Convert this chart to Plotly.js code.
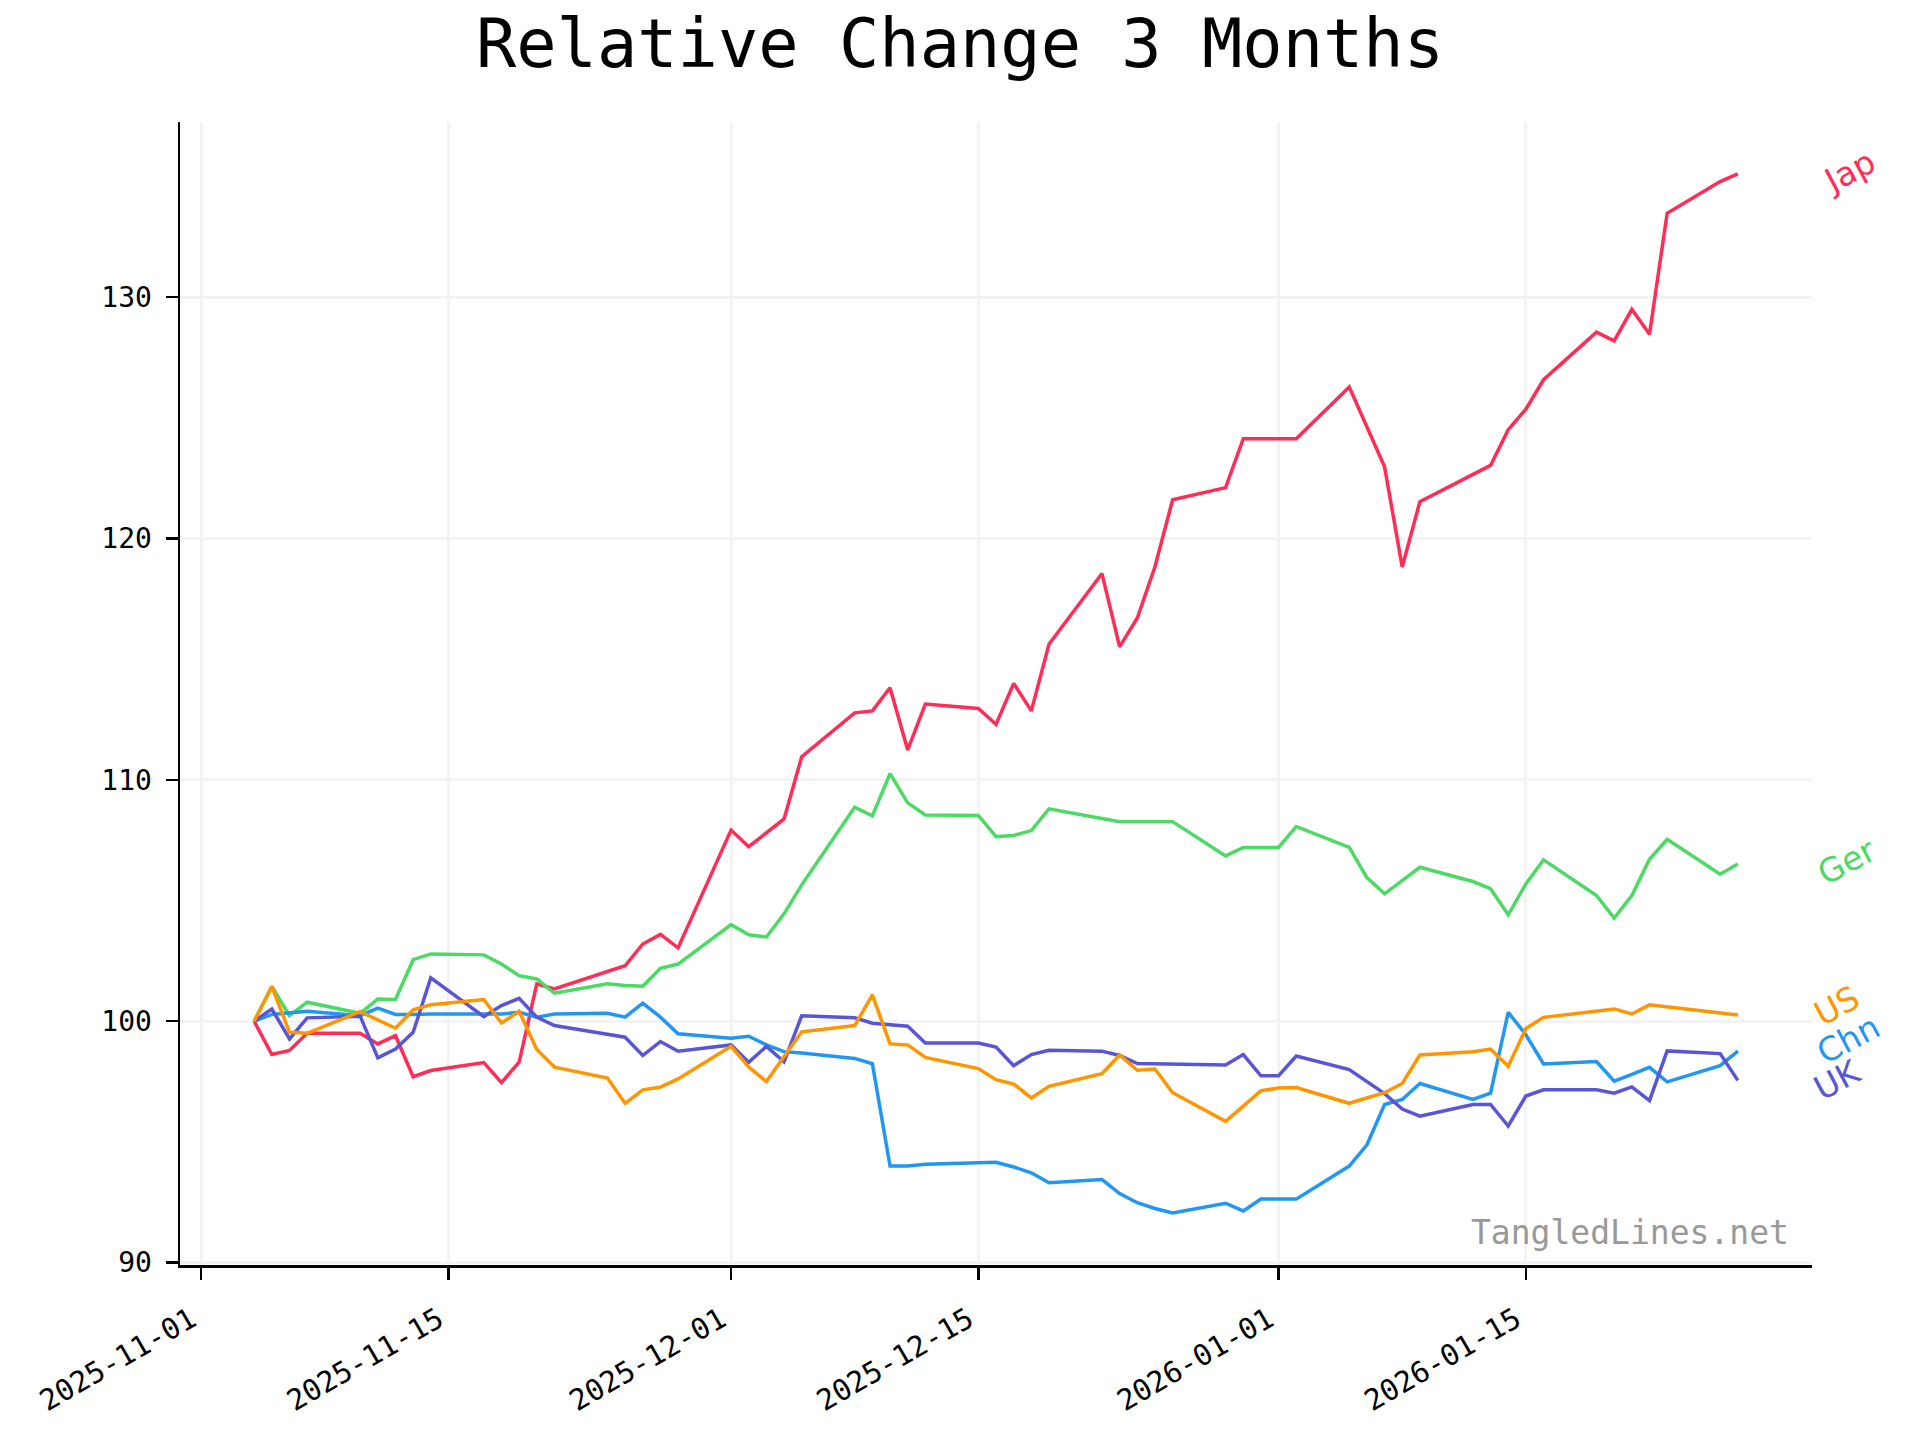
<!DOCTYPE html>
<html>
<head>
<meta charset="utf-8">
<script src="https://cdn.plot.ly/plotly-3.0.1.min.js"></script>
<style>
  html, body { margin: 0; padding: 0; background: #ffffff; }
  #chart { width: 1920px; height: 1440px; }
</style>
</head>
<body>
<div id="chart"></div>
<script>
// ---- Data ----
const dates = [
  "2025-11-04","2025-11-05","2025-11-06","2025-11-07",
  "2025-11-10","2025-11-11","2025-11-12","2025-11-13","2025-11-14",
  "2025-11-17","2025-11-18","2025-11-19","2025-11-20","2025-11-21",
  "2025-11-24","2025-11-25","2025-11-26","2025-11-27","2025-11-28",
  "2025-12-01","2025-12-02","2025-12-03","2025-12-04","2025-12-05",
  "2025-12-08","2025-12-09","2025-12-10","2025-12-11","2025-12-12",
  "2025-12-15","2025-12-16","2025-12-17","2025-12-18","2025-12-19",
  "2025-12-22","2025-12-23","2025-12-24","2025-12-25","2025-12-26",
  "2025-12-29","2025-12-30","2025-12-31","2026-01-01","2026-01-02",
  "2026-01-05","2026-01-06","2026-01-07","2026-01-08","2026-01-09",
  "2026-01-12","2026-01-13","2026-01-14","2026-01-15","2026-01-16",
  "2026-01-19","2026-01-20","2026-01-21","2026-01-22","2026-01-23",
  "2026-01-26","2026-01-27"
];

const jap = [
  100, 98.62, 98.79, 99.5,
  99.5, 99.06, 99.4, 97.7, 97.96,
  98.29, 97.46, 98.3, 101.55, 101.34,
  null, 102.3, 103.2, 103.6, 103.04,
  107.92, 107.23, null, 108.38, 110.96,
  112.78, 112.86, 113.82, 111.24, 113.14,
  112.96, 112.3, 114.0, 112.86, 115.62,
  118.55, 115.51, 116.71, 118.83, 121.61,
  122.11, 124.14, null, null, 124.14,
  126.28, 124.62, 122.97, 118.82, 121.53,
  null, 123.03, 124.51, 125.36, 126.58,
  128.55, 128.19, 129.5, 128.47, 133.48,
  134.79, 135.11
];

const ger = [
  100, 101.44, 100.23, 100.79,
  100.33, 100.92, 100.9, 102.55, 102.79,
  102.75, 102.37, 101.89, 101.75, 101.16,
  101.55, 101.48, 101.45, 102.19, 102.37,
  104.0, 103.58, 103.49, 104.45, 105.65,
  108.87, 108.51, 110.26, 109.05, 108.55,
  108.53, 107.65, 107.7, 107.9, 108.8,
  108.4, 108.27, null, null, 108.27,
  106.85, 107.2, 107.2, 107.2, 108.07,
  107.2, 105.95, 105.28, null, 106.38,
  105.79, 105.49, 104.41, 105.69, 106.69,
  105.21, 104.27, 105.21, 106.71, 107.54,
  106.09, 106.52
];

const us = [
  100, 101.44, 99.54, 99.5,
  100.4, null, 99.71, 100.47, 100.68,
  100.9, 99.93, 100.41, 98.83, 98.1,
  97.65, 96.6, 97.16, 97.27, 97.61,
  98.96, 98.1, 97.5, 98.5, 99.56,
  99.82, 101.09, 99.06, 99.02, 98.5,
  98.04, 97.58, 97.4, 96.82, 97.3,
  97.83, 98.6, 97.97, 98.02, 97.04,
  95.85, 96.48, 97.12, 97.23, 97.25,
  96.6, 96.82, 97.04, 97.42, 98.6,
  98.74, 98.85, 98.13, 99.7, 100.16,
  null, 100.51, 100.3, 100.68, null,
  null, 100.26
];

const chn = [
  100, 100.28, null, 100.41,
  100.23, 100.54, 100.28, 100.28, 100.3,
  100.3, 100.3, 100.37, 100.17, 100.3,
  100.33, 100.17, 100.75, 100.17, 99.48,
  99.3, 99.38, 99.02, 98.74, 98.68,
  98.46, 98.24, 94.0, 94.0, 94.07,
  94.14, 94.16, 93.96, 93.72, 93.31,
  93.44, 92.86, 92.48, 92.24, 92.06,
  92.46, 92.14, 92.63, 92.63, 92.63,
  94.0, 94.88, 96.55, 96.76, 97.42,
  96.76, 97.02, 100.37, 99.44, 98.23,
  98.33, 97.52, 97.8, 98.09, 97.49,
  98.16, 98.76
];

const uk = [
  100, 100.51, 99.27, 100.14,
  100.21, 98.48, 98.85, 99.54, 101.8,
  100.19, 100.65, 100.95, 100.17, 99.82,
  null, 99.34, 98.58, 99.16, 98.76,
  99.02, 98.3, 98.96, 98.32, 100.23,
  100.14, 99.92, 99.86, 99.79, 99.1,
  99.1, 98.93, 98.16, 98.62, 98.8,
  98.76, 98.58, 98.25, null, null,
  98.19, 98.62, 97.74, 97.74, 98.56,
  98.0, 97.5, 97.0, 96.36, 96.07,
  96.55, 96.55, 95.66, 96.9, 97.16,
  97.16, 97.02, 97.28, 96.71, 98.77,
  98.66, 97.55
];

const seriesNames = ["Jap", "Ger", "Chn", "UK", "US"];
const seriesValues = [jap, ger, chn, uk, us];
const seriesColors = ["#ff2d55", "#4cd964", "#2196f3", "#5856d6", "#ff9500"];

// end labels (name, label position)
const labelNames = ["Jap", "Ger", "US", "Chn", "UK"];
const labelY = [135.2, 106.6, 100.67, 99.24, 97.57];
const labelX = [1.0227, 1.0214, 1.0153, 1.0221, 1.0159];
const labelColors = ["#ff2d55", "#4cd964", "#ff9500", "#2196f3", "#5856d6"];

const xTickVals = ["2025-11-01","2025-11-15","2025-12-01","2025-12-15","2026-01-01","2026-01-15"];
const yTickVals = [90, 100, 110, 120, 130];

// ---- Build chart ----
const mono = "DejaVu Sans Mono, monospace";
const sans = "DejaVu Sans, sans-serif";

const traces = seriesNames.map((name, i) => ({
  type: "scatter",
  mode: "lines",
  name: name,
  x: dates,
  y: seriesValues[i],
  connectgaps: true,
  line: { color: seriesColors[i], width: 3.5 },
  hoverinfo: "x+y+name"
}));

const annotations = labelNames.map((name, i) => ({
  text: name,
  xref: "paper",
  yref: "y",
  x: labelX[i],
  y: labelY[i],
  xanchor: "center",
  yanchor: "middle",
  textangle: -28,
  showarrow: false,
  font: { family: sans, size: 33, color: labelColors[i] }
}));

annotations.push({
  text: "TangledLines.net",
  xref: "paper",
  yref: "paper",
  x: 0.987,
  y: 0.028,
  xanchor: "right",
  yanchor: "middle",
  showarrow: false,
  font: { family: mono, size: 33, color: "#999999" }
});

const layout = {
  width: 1920,
  height: 1440,
  paper_bgcolor: "#ffffff",
  plot_bgcolor: "#ffffff",
  showlegend: false,
  margin: { l: 180, r: 108, t: 122, b: 175, pad: 0 },
  title: {
    text: "Relative Change 3 Months",
    x: 0.5,
    xref: "container",
    xanchor: "center",
    y: 0.9697,
    yref: "container",
    yanchor: "middle",
    font: { family: mono, size: 67, color: "#000000" }
  },
  xaxis: {
    type: "date",
    range: ["2025-10-30 19:12", "2026-01-31 04:48"],
    tickmode: "array",
    tickvals: xTickVals,
    ticktext: xTickVals,
    tickangle: -30,
    tickfont: { family: mono, size: 29, color: "#000000" },
    ticks: "outside",
    ticklen: 12,
    tickwidth: 2.5,
    tickcolor: "#000000",
    ticklabelstandoff: 12,
    ticklabelshift: -10,
    showline: true,
    linecolor: "#000000",
    linewidth: 2.5,
    showgrid: true,
    gridcolor: "#f3f3f3",
    gridwidth: 3,
    zeroline: false,
    automargin: false,
    fixedrange: true
  },
  yaxis: {
    range: [89.9, 137.26],
    tickmode: "array",
    tickvals: yTickVals,
    ticktext: yTickVals.map(String),
    tickfont: { family: mono, size: 28, color: "#000000" },
    ticks: "outside",
    ticklen: 12,
    tickwidth: 2.5,
    tickcolor: "#000000",
    ticklabelstandoff: 8,
    showline: true,
    linecolor: "#000000",
    linewidth: 2.5,
    showgrid: true,
    gridcolor: "#f3f3f3",
    gridwidth: 3,
    zeroline: false,
    automargin: false,
    fixedrange: true
  },
  annotations: annotations
};

Plotly.newPlot("chart", traces, layout, { displayModeBar: false, staticPlot: true });
</script>
</body>
</html>
